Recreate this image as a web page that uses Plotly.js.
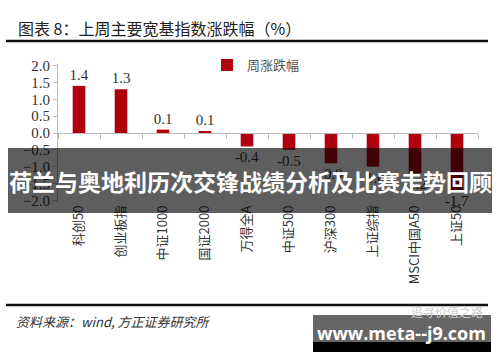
<!DOCTYPE html>
<html>
<head>
<meta charset="utf-8">
<script src="https://cdn.plot.ly/plotly-3.0.1.min.js"></script>
<style>html,body{margin:0;padding:0;background:#fff;}#chart{width:500px;height:362px;}</style>
</head>
<body>
<div id="chart"></div>
<script>
const categories = ["科创50","创业板指","中证1000","国证2000","万得全A","中证500","沪深300","上证综指","MSCI中国A50","上证50"];
const weeklyChange = [1.4, 1.3, 0.1, 0.06, -0.4, -0.5, -0.9, -1.0, -1.2, -1.7];
const labels = ["1.4","1.3","0.1","0.1","-0.4","-0.5","-0.9","-1.0","-1.2","-1.7"];
const seriesName = "周涨跌幅";
const titleText = "图表 8：上周主要宽基指数涨跌幅（%）";
const sourceText = "资料来源：wind, 方正证券研究所";
const bannerText = "荷兰与奥地利历次交锋战绩分析及比赛走势回顾";
const watermarkText = "www.meta--j9.com";
const wechatText = "追寻价值之路";

// layout geometry (pixels)
const W = 500, H = 362;
const L = 58, R = 478, T = 64, B = 202;
const px = x => (x - L) / (R - L);
const py = y => (B - y) / (B - T);

const serif = "Liberation Serif, Times New Roman, serif";
const cjk = "Noto Sans CJK SC, sans-serif";

const traces = [
  {
    type: "bar",
    x: categories,
    y: weeklyChange,
    name: seriesName,
    marker: {color: "#b00010"},
    text: labels,
    textposition: "outside",
    constraintext: "none",
    textfont: {family: serif, size: 15, color: "#333"},
    cliponaxis: false,
    width: 0.3,
    hoverinfo: "skip"
  },
  {
    type: "bar",
    x: categories,
    y: weeklyChange,
    xaxis: "x2",
    marker: {color: "rgba(0,0,0,0)"},
    showlegend: false,
    hoverinfo: "skip",
    width: 0.3
  }
];

const layout = {
  width: W, height: H,
  margin: {l: L, r: W - R, t: T, b: H - B},
  paper_bgcolor: "#fff",
  plot_bgcolor: "#fff",
  showlegend: true,
  legend: {
    x: px(207), y: py(50), xanchor: "left", yanchor: "top",
    font: {family: cjk, size: 13, color: "#555"},
    bgcolor: "rgba(0,0,0,0)", itemwidth: 30
  },
  xaxis: {
    type: "category",
    showline: false, ticks: "", showgrid: false, zeroline: false,
    tickangle: -90,
    tickfont: {family: cjk + ", " + serif, size: 13, color: "#333"},
    fixedrange: true
  },
  xaxis2: {
    type: "category",
    overlaying: "x",
    anchor: "free",
    position: 0.5,
    showline: true, linecolor: "#bbb", linewidth: 1,
    ticks: "outside", ticklen: 5, tickcolor: "#bbb",
    tickson: "boundaries",
    showticklabels: false, showgrid: false, zeroline: false
  },
  yaxis: {
    range: [-2.05, 2.05],
    tickvals: [-2, -1.5, -1, -0.5, 0, 0.5, 1, 1.5, 2],
    tickformat: ".1f",
    showline: true, linecolor: "#bbb", linewidth: 1,
    ticks: "outside", ticklen: 4, tickcolor: "#bbb",
    showgrid: false, zeroline: false,
    tickfont: {family: serif, size: 15, color: "#333"}
  },
  bargap: 0.7,
  shapes: [
    {type: "line", xref: "paper", yref: "paper", x0: px(6), x1: px(488), y0: py(41), y1: py(41), line: {color: "#111", width: 2.5}},
    {type: "line", xref: "paper", yref: "paper", x0: px(6), x1: px(488), y0: py(305), y1: py(305), line: {color: "#111", width: 2.5}},
    {type: "rect", xref: "paper", yref: "paper", x0: px(8), x1: px(492), y0: py(213), y1: py(148), fillcolor: "rgba(0,0,0,0.63)", line: {width: 0}, layer: "above"},
    {type: "rect", xref: "paper", yref: "paper", x0: px(313), x1: px(491), y0: py(342), y1: py(315), fillcolor: "rgba(0,0,0,0.6)", line: {width: 0}, layer: "above"},
    {type: "rect", xref: "paper", yref: "paper", x0: px(313), x1: px(491), y0: py(352), y1: py(342), fillcolor: "#000", line: {width: 0}, layer: "above"}
  ],
  annotations: [
    {text: titleText, xref: "paper", yref: "paper", x: px(16), y: py(28), xanchor: "left", yanchor: "middle", showarrow: false,
     font: {family: cjk, size: 16, color: "#222"}},
    {text: "<i>" + sourceText + "</i>", xref: "paper", yref: "paper", x: px(14), y: py(321), xanchor: "left", yanchor: "middle", showarrow: false,
     font: {family: cjk, size: 13, color: "#333"}},
    {text: wechatText, xref: "paper", yref: "paper", x: px(485), y: py(311), xanchor: "right", yanchor: "middle", showarrow: false,
     font: {family: cjk, size: 12, color: "#ccc"}},
    {text: "<b>" + bannerText + "</b>", xref: "paper", yref: "paper", x: px(250), y: py(181), xanchor: "center", yanchor: "middle", showarrow: false,
     font: {family: cjk, size: 23, color: "#fff"}},
    {text: "<b>" + watermarkText + "</b>", xref: "paper", yref: "paper", x: px(401), y: py(333), xanchor: "center", yanchor: "middle", showarrow: false,
     font: {family: "Open Sans, DejaVu Sans, sans-serif", size: 18, color: "#fff"}}
  ]
};

Plotly.newPlot("chart", traces, layout, {staticPlot: true, displayModeBar: false});
</script>
</body>
</html>
